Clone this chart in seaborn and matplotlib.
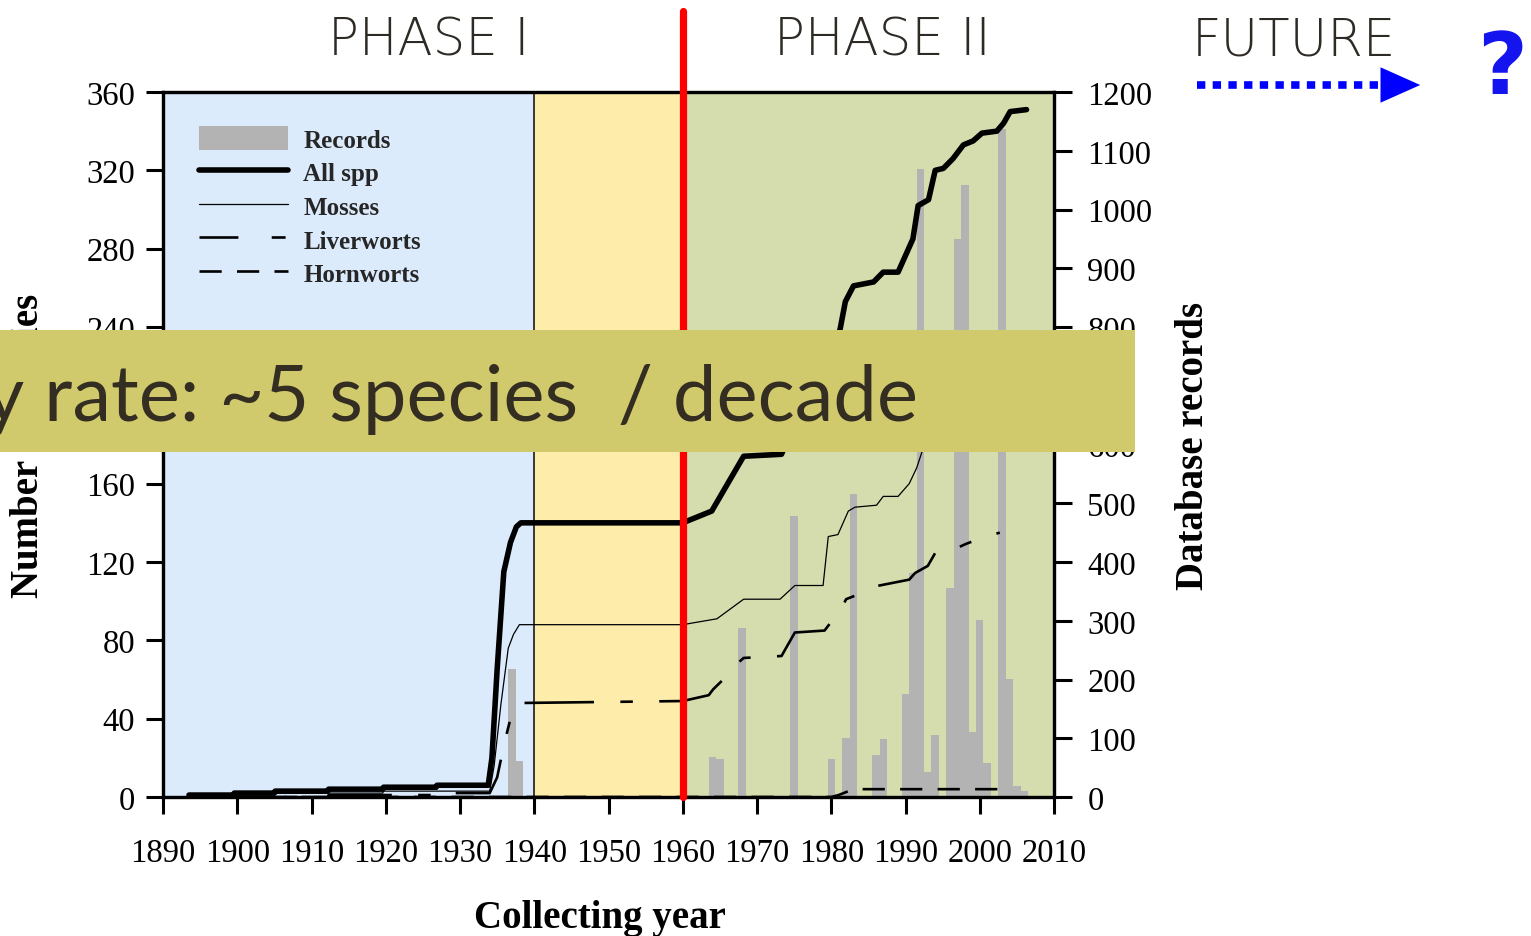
import matplotlib
matplotlib.use("Agg")
import matplotlib.pyplot as plt
from matplotlib.patches import Rectangle, Patch, FancyArrowPatch
from matplotlib.lines import Line2D
import seaborn as sns

# ---------------- data ----------------
record_years = [1937, 1938, 1964, 1965, 1968, 1975, 1980, 1982, 1983, 1986, 1987,
                1990, 1991, 1992, 1993, 1994, 1996, 1997, 1998, 1999, 2000, 2001,
                2003, 2004, 2005, 2006]
record_counts = [218, 61, 68, 65, 287, 478, 65, 100, 516, 72, 98,
                 176, 381, 1069, 42, 105, 356, 950, 1042, 110, 302, 58,
                 1137, 201, 19, 10]

all_years = [1893.5, 1899.5, 1899.6, 1905.0, 1905.1, 1912.2, 1912.3, 1919.6, 1919.7,
             1926.8, 1926.9, 1933.8, 1934.3, 1935.0, 1935.9, 1936.8, 1937.6, 1938.2,
             1960.0, 1963.9, 1968.2, 1973.3, 1975.0, 1979.0, 1980.0, 1981.2, 1981.9,
             1983.0, 1985.7, 1987.0, 1989.0, 1991.0, 1991.7, 1993.1, 1994.0, 1995.1,
             1996.4, 1997.8, 1999.1, 2000.3, 2002.3, 2003.2, 2004.1, 2006.3]
all_spp = [1, 1, 2, 2, 3, 3, 4, 4, 5,
           5, 6, 6, 20, 65, 115, 130, 138, 140,
           140, 146, 174, 175, 190, 193, 225, 239, 253,
           261, 263, 268, 268, 285, 302, 305, 320, 321,
           326, 333, 335, 339, 340, 344, 350, 351]

moss_years = [1893.5, 1905.0, 1905.1, 1919.6, 1919.7, 1934.0, 1934.6, 1935.5, 1936.5,
              1937.2, 1938.0, 1960.0, 1964.6, 1968.2, 1973.1, 1975.1, 1978.9, 1979.6,
              1980.9, 1982.3, 1983.2, 1986.1, 1987.0, 1989.0, 1990.5, 1991.5, 1992.2,
              1993.0, 1995.0, 1998.0, 2000.0, 2003.0, 2006.0]
mosses = [1, 1, 2, 2, 3, 3, 16, 47, 76,
          83, 88, 88, 91, 101, 101, 108, 108, 133,
          134, 146, 148, 149, 153.5, 153.5, 160, 168, 176,
          183, 192, 198, 202, 205, 212]

liver_years = [1893.5, 1912.2, 1912.3, 1926.8, 1926.9, 1934.0, 1935.0, 1936.0, 1936.8,
               1938.0, 1960.0, 1963.5, 1964.1, 1966.0, 1967.0, 1968.2, 1973.3, 1975.1,
               1979.1, 1980.5, 1981.4, 1982.0, 1984.0, 1985.2, 1986.5, 1990.5, 1991.3,
               1993.0, 1994.0, 1995.5, 1998.0, 2000.0, 2002.7]
liverworts = [0, 0, 1, 1, 2, 2, 10, 28, 40,
              48, 49, 52, 55, 62, 67, 71, 72, 84,
              85, 92, 96.5, 101, 104, 107, 108, 111, 114.4,
              118, 124.6, 124.6, 129, 132, 135]

horn_years = [1893.5, 1980.0, 1981.0, 1982.0, 1983.0, 2004.3]
hornworts = [0, 0, 1, 2.5, 4, 4]

x_ticks = list(range(1890, 2011, 10))
species_ticks = list(range(0, 361, 40))
record_ticks = list(range(0, 1201, 100))

phase_spans = [(1890, 1940, '#DCEBFC'), (1940, 1960, '#FEECAB'), (1960, 2010, '#D5DCAE')]
phase_labels = [('PHASE I', 429), ('PHASE II', 882), ('FUTURE', 1294)]

# ---------------- style ----------------
sns.set_theme(style='ticks')
plt.rcParams['font.family'] = ['Liberation Serif', 'DejaVu Serif']
plt.rcParams['lines.scale_dashes'] = False

W, H = 1531, 937
fig = plt.figure(figsize=(W / 100, H / 100), dpi=100)
fig.patch.set_facecolor('white')
ax = fig.add_axes([163 / W, 1 - 798 / H, 891 / W, 705 / H])
ax2 = ax.twinx()
ax.set_zorder(0)
ax2.set_zorder(1)
ax2.patch.set_visible(False)

# backgrounds
for x0, x1, c in phase_spans:
    ax.axvspan(x0, x1, color=c, lw=0, zorder=0)

# bars (records, right scale)
sns.histplot(x=record_years, weights=record_counts, discrete=True, ax=ax,
             color='#b3b3b3', alpha=1, edgecolor='none', linewidth=0, zorder=1)
ax.axvline(1940, color='#1a1a1a', lw=1.2, zorder=2)

ax.set_xlim(1890, 2010)
ax.set_ylim(0, 1200)

# lines (species, left scale)
liver_style = (0, (50, 19, 9, 19))
horn_style = (0, (16, 11))
sns.lineplot(x=all_years, y=all_spp, ax=ax2, color='black', lw=4.0,
             estimator=None, sort=False, legend=False)
sns.lineplot(x=moss_years, y=mosses, ax=ax2, color='black', lw=0.9,
             estimator=None, sort=False, legend=False)
sns.lineplot(x=liver_years, y=liverworts, ax=ax2, color='black', lw=1.9,
             linestyle=liver_style, estimator=None, sort=False, legend=False)
sns.lineplot(x=horn_years, y=hornworts, ax=ax2, color='black', lw=1.9,
             linestyle=horn_style, estimator=None, sort=False, legend=False)
ax2.set_ylim(0, 360)
ax2.set_xlim(1890, 2010)

ax2.axvline(1960, ymin=0, ymax=1.115, color='#FF0000', lw=5.2, clip_on=False, zorder=6)

# axis sides: species on left, records on right
ax.yaxis.tick_right()
ax.yaxis.set_label_position('right')
ax2.yaxis.tick_left()
ax2.yaxis.set_label_position('left')

ax.set_xticks(x_ticks)
ax.set_xticklabels([str(v) for v in x_ticks])
ax.set_yticks(record_ticks)
ax.set_yticklabels([str(v) for v in record_ticks])
ax2.set_yticks(species_ticks)
ax2.set_yticklabels([str(v) for v in species_ticks])

tick_font = 23.5
ax.tick_params(axis='x', direction='out', length=12, width=2.2, pad=17.5,
               labelsize=tick_font, colors='black')
ax.tick_params(axis='y', direction='out', length=13, width=2.2, pad=11,
               labelsize=tick_font, colors='black')
ax2.tick_params(axis='y', direction='out', length=12, width=2.2, pad=8,
                labelsize=tick_font, colors='black')

for a in (ax, ax2):
    for s in a.spines.values():
        s.set_visible(True)
        s.set_color('black')
        s.set_linewidth(2.3)
    a.grid(False)

ax.set_xlabel('Collecting year', fontsize=28, fontweight='bold', color='black')
ax.xaxis.set_label_coords((600 - 163) / 891, (798 - 900) / 705)
ax.set_ylabel('Database records', fontsize=28, fontweight='bold', color='black')
ax.yaxis.set_label_coords((1175 - 163) / 891, 0.5)
ax2.set_ylabel('Number of species', fontsize=28, fontweight='bold', color='black')
ax2.yaxis.set_label_coords((47 - 163) / 891, 0.5)

# legend
handles = [
    Patch(facecolor='#b3b3b3', edgecolor='none'),
    Line2D([], [], color='black', lw=4.0),
    Line2D([], [], color='black', lw=0.9),
    Line2D([], [], color='black', lw=1.9, linestyle=(0, (28, 24, 10, 30))),
    Line2D([], [], color='black', lw=1.9, linestyle=horn_style),
]
labels = ['Records', 'All spp', 'Mosses', 'Liverworts', 'Hornworts']
leg = ax2.legend(handles, labels, loc='upper left',
                 bbox_to_anchor=((199 - 163) / 891, (798 - 127) / 705),
                 frameon=False, borderpad=0, borderaxespad=0,
                 handlelength=3.57, handleheight=1.12, handletextpad=0.6,
                 labelspacing=0.32,
                 prop={'family': 'Liberation Serif', 'weight': 'bold', 'size': 18})

# phase labels
for txt, xc in phase_labels:
    fig.text(xc / W, 1 - 56 / H, txt, ha='center', va='baseline', fontsize=37,
             family='DejaVu Sans', fontweight='light', color='#2E2A25')

# future arrow
fig.add_artist(Line2D([1197 / W, 1398 / W], [1 - 86 / H, 1 - 86 / H],
                      transform=fig.transFigure, color='#0000FF', lw=5.5,
                      linestyle=(0, (6, 5.3)), solid_capstyle='butt'))
fig.patches.append(
    FancyArrowPatch((1383 / W, 1 - 86 / H), (1423 / W, 1 - 86 / H),
                    transform=fig.transFigure,
                    arrowstyle='-|>,head_length=1.3,head_width=0.58',
                    mutation_scale=22, color='#0000FF', lw=0))
fig.text(1502 / W, 1 - 94 / H, '?', ha='center', va='baseline', fontsize=62,
         fontweight='bold', family='DejaVu Sans', color='#1414EE')

# banner
banner = Rectangle((0, 1 - 453 / H), 1135 / W, 122 / H, transform=fig.transFigure,
                   facecolor='#D1CA6C', edgecolor='none', zorder=10)
fig.patches.append(banner)
fig.text(918 / W, 1 - 421 / H, 'Discovery rate: ~5 species  / decade', ha='right',
         va='baseline', fontsize=56, family='Lato', color='#332D22', zorder=11)

fig.savefig('out.png', dpi=100)
